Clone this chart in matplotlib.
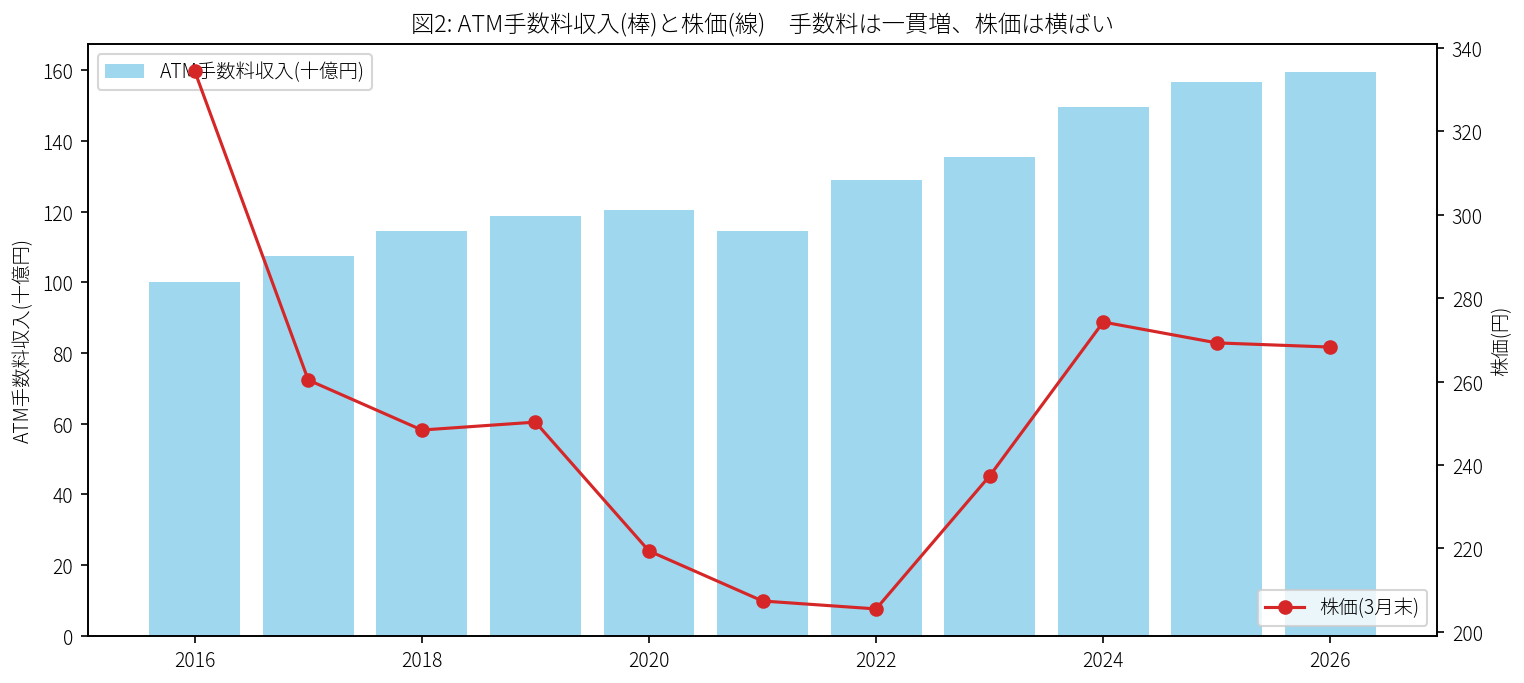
import matplotlib
matplotlib.use("Agg")
import matplotlib.pyplot as plt

plt.rcParams["font.family"] = ["Noto Sans CJK JP", "DejaVu Sans"]
plt.rcParams["font.weight"] = "light"
plt.rcParams["axes.titleweight"] = "light"
plt.rcParams["axes.labelweight"] = "light"
plt.rcParams["font.size"] = 9.3
plt.rcParams["axes.titlesize"] = 11.2

years = [2016, 2017, 2018, 2019, 2020, 2021, 2022, 2023, 2024, 2025, 2026]
atm_fee = [100.2, 107.3, 114.4, 118.7, 120.4, 114.4, 128.9, 135.4, 149.5, 156.6, 159.4]
stock_price = [334.5, 260.4, 248.4, 250.3, 219.4, 207.4, 205.5, 237.4, 274.3, 269.3, 268.3]

fig, ax1 = plt.subplots(figsize=(10.16, 4.56), dpi=150)
fig.subplots_adjust(left=0.0577, right=0.943, top=0.934, bottom=0.069)

ax1.bar(years, atm_fee, width=0.8, color="skyblue", alpha=0.8, label="ATM手数料収入(十億円)")
ax1.set_ylabel("ATM手数料収入(十億円)")
ax1.legend(loc="upper left")

ax2 = ax1.twinx()
ax2.plot(years, stock_price, color="tab:red", marker="o", label="株価(3月末)")
ax2.set_ylabel("株価(円)")
ax2.legend(loc="lower right")

ax1.set_title("図2: ATM手数料収入(棒)と株価(線)　手数料は一貫増、株価は横ばい")

fig.savefig("out.png", dpi=150)
